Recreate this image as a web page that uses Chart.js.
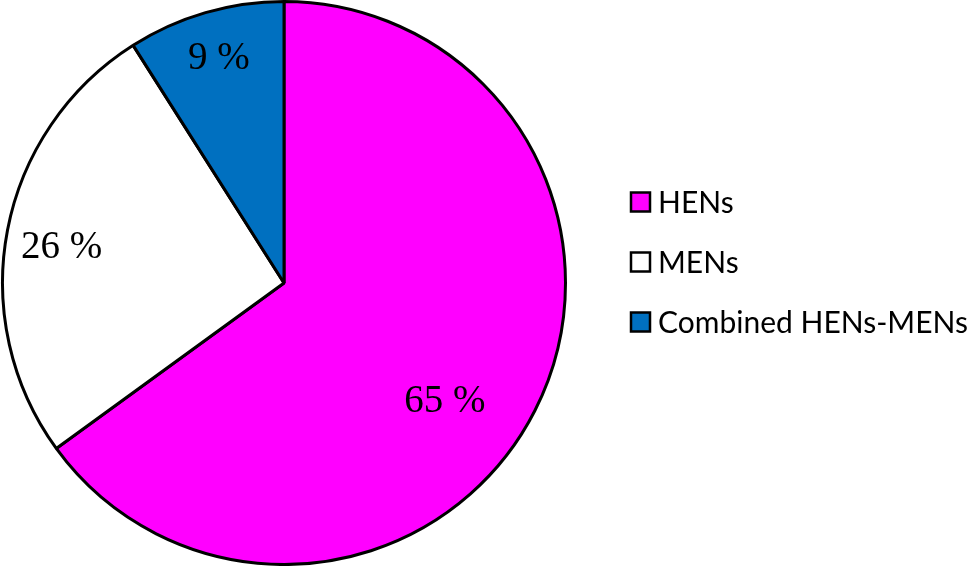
<!DOCTYPE html>
<html>
<head>
<meta charset="utf-8">
<script src="https://cdn.jsdelivr.net/npm/chart.js@4.4.0/dist/chart.umd.min.js"></script>
<style>
  html, body { margin: 0; padding: 0; background: #fff; }
  #wrap { width: 969px; height: 566px; }
</style>
</head>
<body>
<div id="wrap"><canvas id="myChart" width="969" height="566"></canvas></div>
<script>
// data
const categories = ['HENs', 'MENs', 'Combined HENs-MENs'];
const shares = [65, 26, 9];
const sliceLabels = ['65 %', '26 %', '9 %'];
const sliceColors = ['#ff00ff', '#ffffff', '#0070c0'];

// where the % text sits inside each slice (fraction of slice angle, fraction of radius)
const labelSpot = [[0.54, 0.71], [0.48, 0.80], [0.50, 0.83]];

// percent labels drawn on the arcs
const sliceText = {
  id: 'sliceText',
  afterDatasetsDraw(chart) {
    const ctx = chart.ctx;
    const arcs = chart.getDatasetMeta(0).data;
    ctx.save();
    ctx.font = '39px "Liberation Serif", "Times New Roman", serif';
    ctx.fillStyle = '#000';
    ctx.textAlign = 'center';
    ctx.textBaseline = 'middle';
    arcs.forEach((arc, i) => {
      const p = arc.getProps(['x', 'y', 'startAngle', 'endAngle', 'outerRadius'], true);
      const a = p.startAngle + (p.endAngle - p.startAngle) * labelSpot[i][0];
      const r = p.outerRadius * labelSpot[i][1];
      ctx.fillText(sliceLabels[i], p.x + Math.cos(a) * r, p.y + Math.sin(a) * r);
    });
    ctx.restore();
  }
};

// legend on the right, square markers
const sideLegend = {
  id: 'sideLegend',
  afterDraw(chart) {
    const ctx = chart.ctx;
    const x0 = 631, y0 = 202, step = 60, box = 19;
    ctx.save();
    ctx.font = '30px Lato, "Open Sans", sans-serif';
    ctx.textBaseline = 'middle';
    ctx.textAlign = 'left';
    categories.forEach((name, i) => {
      const y = y0 + i * step;
      ctx.fillStyle = sliceColors[i];
      ctx.fillRect(x0, y - box / 2, box, box);
      ctx.lineWidth = 2.5;
      ctx.strokeStyle = '#000';
      ctx.strokeRect(x0, y - box / 2, box, box);
      ctx.fillStyle = '#000';
      ctx.fillText(name, x0 + box + 8, y + 1);
    });
    ctx.restore();
  }
};

const config = {
  type: 'pie',
  data: {
    labels: categories,
    datasets: [{
      data: shares,
      backgroundColor: sliceColors,
      borderColor: '#000',
      borderWidth: 3
    }]
  },
  options: {
    responsive: false,
    animation: false,
    layout: { padding: { left: 0, top: 0, bottom: 0, right: 401 } },
    plugins: {
      legend: { display: false },
      tooltip: { enabled: false }
    }
  },
  plugins: [sliceText, sideLegend]
};

const myChart = new Chart(document.getElementById('myChart'), config);
</script>
</body>
</html>
